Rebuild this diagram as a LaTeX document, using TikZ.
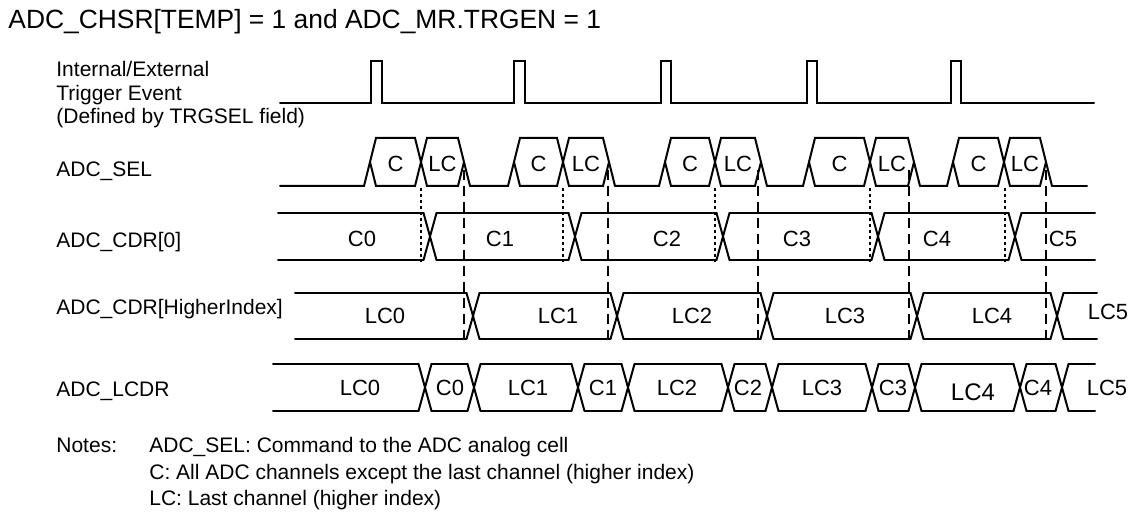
\documentclass[tikz,border=0pt]{standalone}
\usepackage{fontspec}
\setmainfont{Liberation Sans}
\tikzset{
    sig/.style      = {line width=1pt, line cap=round, line join=miter},
    edgemark/.style = {line width=0.6pt, dash pattern=on 1.5pt off 1.5pt},
    latchmark/.style= {line width=0.6pt, dash pattern=on 5pt off 3pt},
    rowlabel/.style = {anchor=base west, inner sep=0pt, font=\fontsize{10.5}{12}\selectfont},
    sigval/.style   = {inner sep=0pt, text height=7.9pt, text depth=0pt, font=\fontsize{11}{13}\selectfont},
    notetext/.style = {anchor=base west, inner sep=0pt, font=\fontsize{10.5}{12}\selectfont}
}

\begin{document}
\begin{tikzpicture}[x=0.5pt, y=-0.5pt]

    \useasboundingbox (0,0) rectangle (1137,518);

    % ---------- title ----------
    \node[anchor=base west, inner sep=0pt, font=\fontsize{13.2}{16}\selectfont] (title)
      at (8,29) {ADC\_CHSR[TEMP] = 1 and ADC\_MR.TRGEN = 1};

    % =================================================
    % 1. Row labels
    % =================================================
    \node[rowlabel] (lblTrigA) at (56,77)    {Internal/External};
    \node[rowlabel] (lblTrigB) at (56,100.5) {Trigger Event};
    \node[rowlabel] (lblTrigC) at (56,124)   {(Defined by TRGSEL field)};
    \node[rowlabel] (lblSel)   at (56,176.5) {ADC\_SEL};
    \node[rowlabel] (lblCdr0)  at (56,247.5) {ADC\_CDR[0]};
    \node[rowlabel] (lblCdrHi) at (56,315)   {ADC\_CDR[HigherIndex]};
    \node[rowlabel] (lblLcdr)  at (56,397)   {ADC\_LCDR};

    % =================================================
    % 2. Trigger pulses
    % =================================================
    \draw[sig] (280,103)
      \foreach \r/\f in {371/382,514/525,661/671,807/817,951/961}
        { -- (\r,103) -- (\r,61) -- (\f,61) -- (\f,103) }
      -- (1094,103);

    % =================================================
    % 3. ADC_SEL: C then LC, back to idle
    % =================================================
    \def\selH{138}
    \def\selL{186}
    \def\selM{162}
    \foreach \a/\m/\e [count=\i, remember=\e as \p (initially 280)] in
      {364/421/470, 508/563/615, 659/715/767, 803/870/920, 947/1004/1052} {
        \draw[sig] (\p,\selL) -- (\a,\selL) -- (\a+12,\selH) -- (\m-6,\selH)
          -- (\m+6,\selL) -- (\e-12,\selL) -- (\e-6,\selM);
        \draw[sig] (\a+6,\selM) -- (\a+12,\selL) -- (\m-6,\selL)
          -- (\m+6,\selH) -- (\e-12,\selH) -- (\e,\selL);
        \node[sigval] (selC\i)  at ({(\a+\m+6)/2},164)  {C};
        \node[sigval] (selLC\i) at ({(\m+\e-6)/2},164)  {LC};
    }
    \draw[sig] (1052,\selL) -- (1087,\selL);

    % =================================================
    % 4. ADC_CDR[0]
    % =================================================
    \def\yH{213}
    \def\yL{260}
    \foreach \c [remember=\c as \p (initially 271.5)] in {430,575,723,878,1015,1101.5}
        \draw[sig] (\p+6.5,\yH) -- (\c-6.5,\yH) (\p+6.5,\yL) -- (\c-6.5,\yL);
    \foreach \c in {430,575,723,878,1015}
        \draw[sig] (\c-6.5,\yH) -- (\c+6.5,\yL) (\c-6.5,\yL) -- (\c+6.5,\yH);
    \foreach \lbl/\x [count=\i from 0] in {C0/362,C1/500,C2/667,C3/797,C4/937,C5/1063}
        \node[sigval] (cdr0v\i) at (\x,239) {\lbl};

    % =================================================
    % 5. ADC_CDR[HigherIndex]
    % =================================================
    \def\yH{293}
    \def\yL{339}
    \foreach \c [remember=\c as \p (initially 288.5)] in {473,617,767,917,1057,1103.5}
        \draw[sig] (\p+6.5,\yH) -- (\c-6.5,\yH) (\p+6.5,\yL) -- (\c-6.5,\yL);
    \foreach \c in {473,617,767,917,1057}
        \draw[sig] (\c-6.5,\yH) -- (\c+6.5,\yL) (\c-6.5,\yL) -- (\c+6.5,\yH);
    \foreach \lbl/\x [count=\i from 0] in {LC0/385,LC1/558,LC2/692,LC3/845,LC4/992}
        \node[sigval] (cdrHv\i) at (\x,316) {\lbl};
    \node[sigval] (cdrHv5) at (1108,312) {LC5};

    % =================================================
    % 6. ADC_LCDR
    % =================================================
    \def\yH{364}
    \def\yL{411}
    \foreach \c [remember=\c as \p (initially 266.5)] in
      {425,474,578,628,728,772,872,915,1020,1062,1101.5}
        \draw[sig] (\p+6.5,\yH) -- (\c-6.5,\yH) (\p+6.5,\yL) -- (\c-6.5,\yL);
    \foreach \c in {425,474,578,628,728,772,872,915,1020,1062}
        \draw[sig] (\c-6.5,\yH) -- (\c+6.5,\yL) (\c-6.5,\yL) -- (\c+6.5,\yH);
    \foreach \lbl/\x [count=\i] in
      {LC0/360,C0/450,LC1/528,C1/603,LC2/677,C2/748,LC3/822,C3/893,C4/1038,LC5/1107}
        \node[sigval] (lcdrv\i) at (\x,387.5) {\lbl};
    % this one is set a little larger
    \node[sigval, text height=8.6pt, font=\fontsize{12}{14}\selectfont] (lcdrvLC4)
      at (973,392) {LC4};

    % =================================================
    % 7. Marker lines
    % =================================================
    \foreach \x in {421,563,715,870,1005}
        \draw[edgemark] (\x,188) -- (\x,262);
    \foreach \x in {464,608,758,909,1046}
        \draw[latchmark] (\x,170) -- (\x,340);

    % ---------- notes ----------
    \node[notetext] (notesHdr) at (56,453)    {Notes:};
    \node[notetext] (note1)    at (149,453)   {ADC\_SEL: Command to the ADC analog cell};
    \node[notetext] (note2)    at (149,479.5) {C: All ADC channels except the last channel (higher index)};
    \node[notetext] (note3)    at (149,506)   {LC: Last channel (higher index)};

\end{tikzpicture}
\end{document}
